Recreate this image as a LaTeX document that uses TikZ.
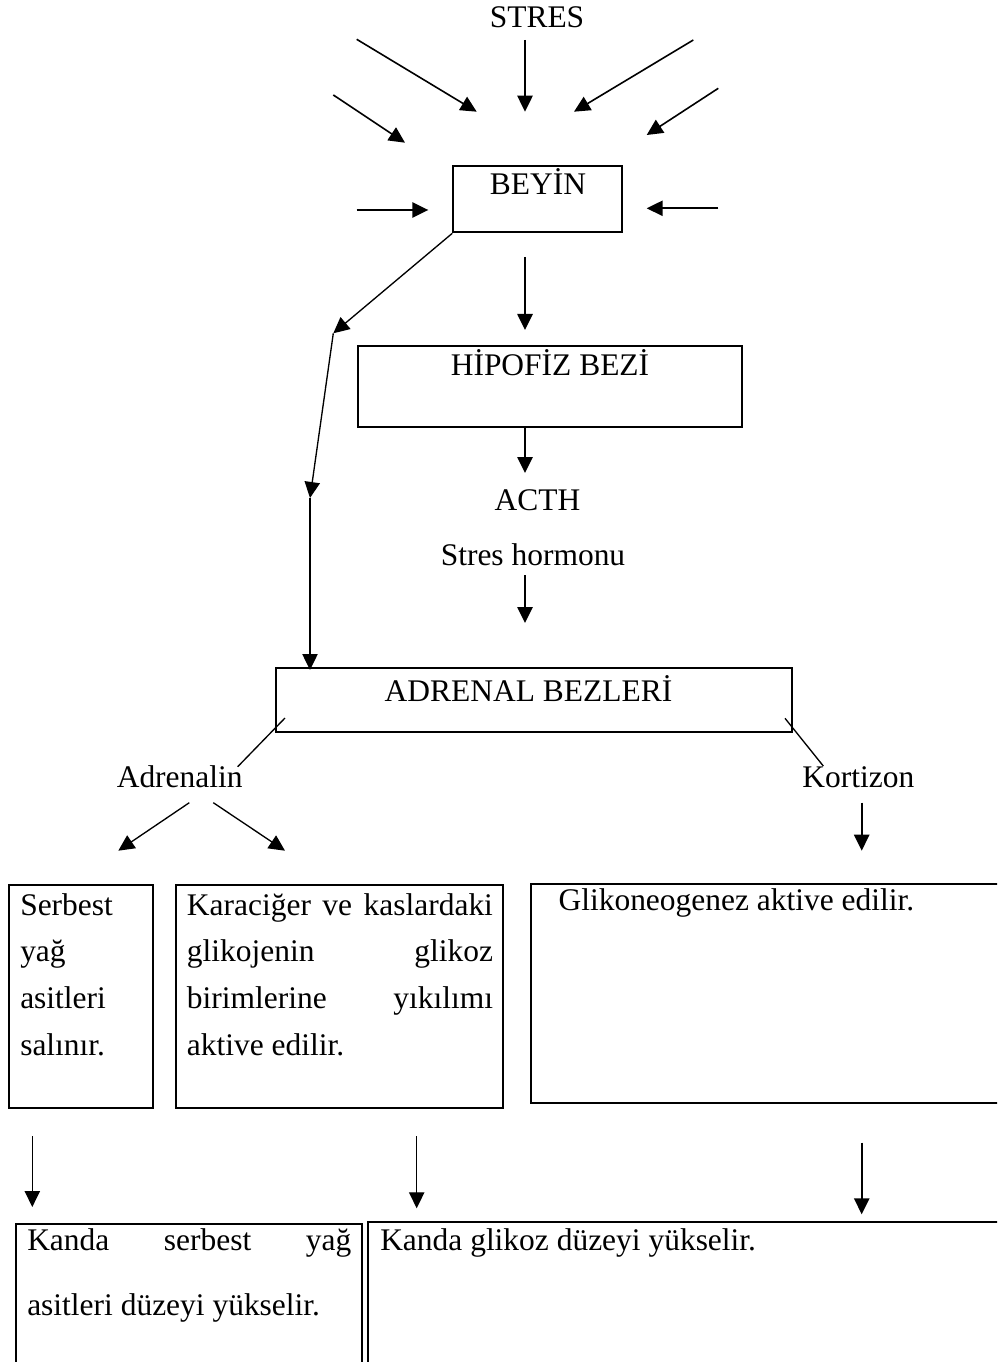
\documentclass[tikz,border=0pt]{standalone}
\usepackage{fontspec}
\setmainfont{Liberation Serif}
\usetikzlibrary{arrows.meta,fit}
\newcommand\myfs{\fontsize{23.6}{35}\selectfont}
\begin{document}
\begin{tikzpicture}[x=0.75pt,y=-0.75pt,
  box/.style={draw,line width=1.5pt,inner sep=0pt,rectangle},
  lbl/.style={anchor=base,inner sep=0pt,font=\myfs},
  txt/.style={anchor=base west,inner sep=0pt,font=\myfs},
  arr/.style={line width=1.2pt,-{Triangle[length=12pt,width=11.5pt]}},
  thin/.style={line width=1pt}]
\useasboundingbox (0,0) rectangle (997,1362);
\clip (0,0) rectangle (997,1362);
% texts
\node[lbl] (stres) at (537,28) {STRES};
\node[lbl] (beyintxt) at (538,195) {BEYİN};
\node[lbl] (hiptxt) at (550,375) {HİPOFİZ BEZİ};
\node[lbl] (acth) at (537.5,510) {ACTH};
\node[lbl] (hormon) at (533,565) {Stres hormonu};
\node[lbl] (adrtxt) at (528.5,701.5) {ADRENAL BEZLERİ};
\node[lbl] (adrenalin) at (179.7,787) {Adrenalin};
\node[lbl] (kortizon) at (858.3,787) {Kortizon};
% boxes
\node[box,fit={(453.3,165.7) (622.3,232.3)}] (beyin) {};
\node[box,fit={(357.7,346) (742.3,426.7)}] (hipofiz) {};
\node[box,fit={(275.6,668) (791.5,731.5)}] (adrenal) {};
\node[box,fit={(9,885) (153.3,1108.3)}] (serbest) {};
\node[box,fit={(175.7,885) (503.3,1108.3)}] (karaciger) {};
\node[box,fit={(530.7,884) (1003,1103.3)}] (glikoneo) {};
\node[box,fit={(15.7,1224) (362.3,1375)}] (kandaL) {};
\node[box,fit={(368.3,1222) (1003,1375)}] (kandaR) {};
% box texts
\node[txt] (serbesttxt) at (20,915) {\parbox[t]{110pt}{\myfs Serbest\\yağ\\asitleri\\salınır.}};
\node[txt] (karacigertxt) at (186.7,915) {\parbox[t]{229.5pt}{\myfs Karaciğer\hfill ve\hfill kaslardaki\\glikojenin\hfill glikoz\\birimlerine\hfill yıkılımı\\aktive edilir.}};
\node[txt] (glikotxt) at (558.3,910) {Glikoneogenez aktive edilir.};
\node[txt] (kandaLtxt) at (27,1250) {\parbox[t]{243pt}{\fontsize{23.6}{48.75}\selectfont Kanda\hfill serbest\hfill yağ\\asitleri düzeyi yükselir.}};
\node[txt] (kandaRtxt) at (380,1250) {Kanda glikoz düzeyi yükselir.};
% coordinates
\coordinate (s1a) at (356.7,39.3); \coordinate (s1b) at (476.7,111.7);
\coordinate (s2a) at (525,40);     \coordinate (s2b) at (525,111.7);
\coordinate (s3a) at (693.3,40);   \coordinate (s3b) at (574,111.7);
\coordinate (s4a) at (333.3,95);   \coordinate (s4b) at (405,142.7);
\coordinate (s5a) at (718.3,88.3); \coordinate (s5b) at (646.7,135);
\coordinate (s6a) at (356.7,210);  \coordinate (s6b) at (428.3,210);
\coordinate (s7a) at (718.3,208.3);\coordinate (s7b) at (646.7,208.3);
\coordinate (k1) at (333.3,333.3);
\coordinate (k2) at (310,498);
\coordinate (k3) at (310,670);
\coordinate (h1) at (525,257); \coordinate (h2) at (525,330);
\coordinate (h3) at (525,426); \coordinate (h4) at (525,473);
\coordinate (h5) at (525,575); \coordinate (h6) at (525,623);
\coordinate (l1a) at (285,718); \coordinate (l1b) at (237.7,766.7);
\coordinate (l2a) at (785,718.3); \coordinate (l2b) at (823.3,766);
\coordinate (c1a) at (189.3,802.7); \coordinate (c1b) at (118.3,850.7);
\coordinate (c2a) at (213.3,802.7); \coordinate (c2b) at (285,850.7);
\coordinate (c3a) at (861.7,802.7); \coordinate (c3b) at (861.7,850.7);
\coordinate (d1a) at (32.3,1136); \coordinate (d1b) at (32.3,1207);
\coordinate (d2a) at (416.7,1136); \coordinate (d2b) at (416.7,1208.3);
\coordinate (d3a) at (861.7,1142.7); \coordinate (d3b) at (861.7,1214.3);
% arrows
\draw[arr] (s1a) -- (s1b);
\draw[arr] (s2a) -- (s2b);
\draw[arr] (s3a) -- (s3b);
\draw[arr] (s4a) -- (s4b);
\draw[arr] (s5a) -- (s5b);
\draw[arr] (s6a) -- (s6b);
\draw[arr] (s7a) -- (s7b);
\draw[arr,line width=1pt] (beyin.south west) -- (k1);
\draw[arr,line width=1pt] (k1) -- (k2);
\draw[arr,line width=1pt] (k2) -- (k3);
\draw[arr] (h1) -- (h2);
\draw[arr] (h3) -- (h4);
\draw[arr] (h5) -- (h6);
\draw[thin] (l1a) -- (l1b);
\draw[thin] (l2a) -- (l2b);
\draw[arr,line width=1pt] (c1a) -- (c1b);
\draw[arr,line width=1pt] (c2a) -- (c2b);
\draw[arr] (c3a) -- (c3b);
\draw[arr,line width=1pt] (d1a) -- (d1b);
\draw[arr,line width=1pt] (d2a) -- (d2b);
\draw[arr] (d3a) -- (d3b);
\end{tikzpicture}
\end{document}
